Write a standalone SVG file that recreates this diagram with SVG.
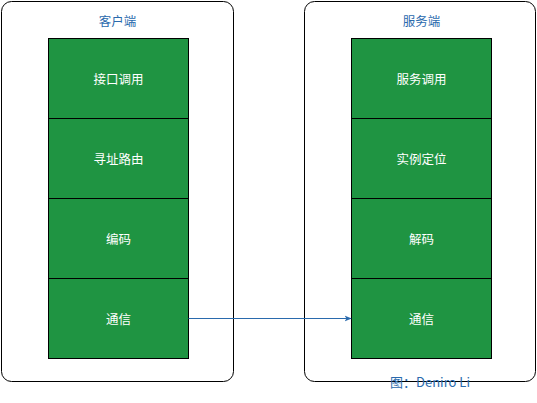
<svg xmlns="http://www.w3.org/2000/svg" width="537" height="403" viewBox="0 0 537 403">
<style>
.cont{fill:#ffffff;stroke:#000000;stroke-width:1}
.box{fill:#1f9442;stroke:#000000;stroke-width:1}
.lbl{font-family:"Microsoft YaHei","Noto Sans CJK SC",sans-serif;font-size:12.5px;fill:#ffffff;text-anchor:middle;dominant-baseline:central}
.ttl{font-family:"Microsoft YaHei","Noto Sans CJK SC",sans-serif;font-size:12.5px;fill:#2a6aad;text-anchor:middle;dominant-baseline:central}
.cap{font-family:"Microsoft YaHei","Noto Sans CJK SC",sans-serif;font-size:13px;fill:#2a6aad;text-anchor:middle;dominant-baseline:central}
</style>
<defs>
<marker id="arr" viewBox="0 0 10 10" refX="9" refY="5" markerWidth="7" markerHeight="7" orient="auto" markerUnits="userSpaceOnUse">
<path d="M0,1 L10,5 L0,9 L2.5,5 Z" fill="#2a6aad"/>
</marker>
</defs>
<rect width="537" height="403" fill="#ffffff"/>
<g id="client">
<rect class="cont" x="1.5" y="1.5" width="232" height="380" rx="10"/>
<text class="ttl" x="117.5" y="20">客户端</text>
</g>
<g id="server">
<rect class="cont" x="304.5" y="1.5" width="231" height="380" rx="10"/>
<text class="ttl" x="421.5" y="20">服务端</text>
</g>
<g id="c1"><rect class="box" x="48.5" y="38.5" width="140" height="80"/><text class="lbl" x="118.5" y="78.5">接口调用</text></g>
<g id="c2"><rect class="box" x="48.5" y="118.5" width="140" height="80"/><text class="lbl" x="118.5" y="158.5">寻址路由</text></g>
<g id="c3"><rect class="box" x="48.5" y="198.5" width="140" height="80"/><text class="lbl" x="118.5" y="238.5">编码</text></g>
<g id="c4"><rect class="box" x="48.5" y="278.5" width="140" height="80"/><text class="lbl" x="118.5" y="318.5">通信</text></g>
<g id="s1"><rect class="box" x="351.5" y="38.5" width="140" height="80"/><text class="lbl" x="421.5" y="78.5">服务调用</text></g>
<g id="s2"><rect class="box" x="351.5" y="118.5" width="140" height="80"/><text class="lbl" x="421.5" y="158.5">实例定位</text></g>
<g id="s3"><rect class="box" x="351.5" y="198.5" width="140" height="80"/><text class="lbl" x="421.5" y="238.5">解码</text></g>
<g id="s4"><rect class="box" x="351.5" y="278.5" width="140" height="80"/><text class="lbl" x="421.5" y="318.5">通信</text></g>
<g id="connectors">
<line x1="188.5" y1="318.5" x2="351" y2="318.5" stroke="#2a6aad" stroke-width="1" marker-end="url(#arr)"/>
</g>
<text class="cap" x="430" y="381.5">图：Deniro Li</text>
</svg>
